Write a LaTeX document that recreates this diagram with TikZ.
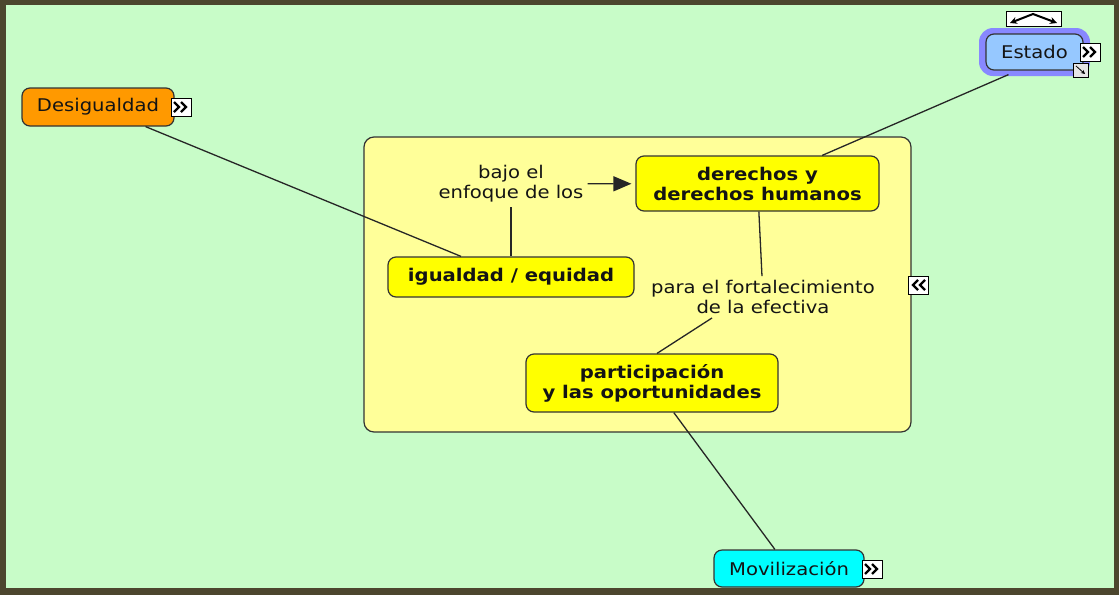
\documentclass[tikz,border=0pt]{standalone}
\usepackage{fontspec}
\setmainfont{DejaVu Sans}[FakeStretch=1.12]
\usetikzlibrary{arrows.meta,calc}
\definecolor{bggreen}{RGB}{200,252,200}
\definecolor{frame}{RGB}{76,70,46}
\definecolor{contfill}{RGB}{255,255,153}
\definecolor{yel}{RGB}{255,255,0}
\definecolor{orng}{RGB}{255,153,0}
\definecolor{estblue}{RGB}{150,200,255}
\definecolor{halo}{RGB}{136,136,255}
\definecolor{cyn}{RGB}{0,255,255}
\definecolor{txt}{RGB}{20,20,20}
\tikzset{
  concept/.style={draw=black!80, line width=1.2pt, rounded corners=8pt, align=center, text=txt, inner sep=0pt,
    font=\fontsize{17.5}{20}\selectfont},
  boldconcept/.style={concept, font=\fontsize{17.5}{20}\selectfont\bfseries},
  linkphrase/.style={align=center, text=txt, inner sep=4pt, font=\fontsize{17.5}{20}\selectfont},
  conn/.style={draw=black!85, line width=1.3pt},
  fwdicon/.pic={
    \draw[fill=white, draw=black, line width=0.9pt] (-10,-9) rectangle (10,9);
    \draw[line width=2.2pt] (-7,-5) -- (-2,0) -- (-7,5);
    \draw[line width=2.2pt] (0,-5) -- (5,0) -- (0,5);
  },
  backicon/.pic={
    \draw[fill=white, draw=black, line width=0.9pt] (-10,-9) rectangle (10,9);
    \draw[line width=2.2pt] (7,-5) -- (2,0) -- (7,5);
    \draw[line width=2.2pt] (0,-5) -- (-5,0) -- (0,5);
  }
}
\begin{document}
\begin{tikzpicture}[x=1pt,y=-1pt]
\useasboundingbox (0,0) rectangle (1119,595);
\fill[frame] (0,0) rectangle (1119,595);
\fill[bggreen] (6,5) rectangle (1114,588);

% container
\node[concept, fill=contfill, rounded corners=10pt, minimum width=547pt, minimum height=295pt] (cont) at (637.5,284.5) {};

% concepts
\node[concept, fill=orng, minimum width=152pt, minimum height=38pt] (desig) at (98,107) {Desigualdad};
\fill[halo, rounded corners=14pt] (979,28) rectangle (1090,76);
\node[concept, fill=estblue, minimum width=97pt, minimum height=36pt] (estado) at (1034.5,52) {Estado};
\node[boldconcept, fill=yel, minimum width=243pt, minimum height=55pt] (derechos) at (757.5,183.5) {derechos y\\derechos humanos};
\node[boldconcept, fill=yel, minimum width=246pt, minimum height=40pt] (igual) at (511,277) {igualdad / equidad};
\node[boldconcept, fill=yel, minimum width=252pt, minimum height=58pt] (partic) at (652,383) {participación\\y las oportunidades};
\node[concept, fill=cyn, minimum width=150pt, minimum height=37pt] (movil) at (789,568.5) {Movilización};

% linking phrases
\node[linkphrase] (bajo) at (511,184) {bajo el\\enfoque de los};
\node[linkphrase] (para) at (763,297) {para el fortalecimiento\\de la efectiva};

% connectors
\draw[conn] (desig) -- (igual);
\draw[conn] ([xshift=-26pt,yshift=-4pt]estado.south) -- (derechos);
\draw[conn] (igual) -- (bajo);
\draw[conn, -{Triangle[length=18pt,width=15pt]}, shorten >=4pt] (bajo) -- (derechos);
\draw[conn] (derechos) -- (para);
\draw[conn] ([xshift=-51pt]para.south) -- ([xshift=5pt]partic.north);
\draw[conn] (partic) -- (movil);

% icons
\pic at (181,107) {fwdicon};
\pic at (1090,52) {fwdicon};
\pic at (872,569) {fwdicon};
\pic at (918,285) {backicon};

% expand icon at Estado
\draw[fill=white, draw=black, line width=0.9pt] (1006,11) rectangle (1061,26);
\draw[line width=2pt, {Stealth[length=7pt,width=7pt]}-{Stealth[length=7pt,width=7pt]}] (1010,23) -- (1033,14) -- (1057,23);
% resize icon
\draw[fill=black!10, draw=black, line width=0.7pt] (1073,63) rectangle (1088,77);
\draw[line width=0.8pt, -{Stealth[length=4pt,width=4pt]}] (1076,66) -- (1085,74);
\end{tikzpicture}
\end{document}
